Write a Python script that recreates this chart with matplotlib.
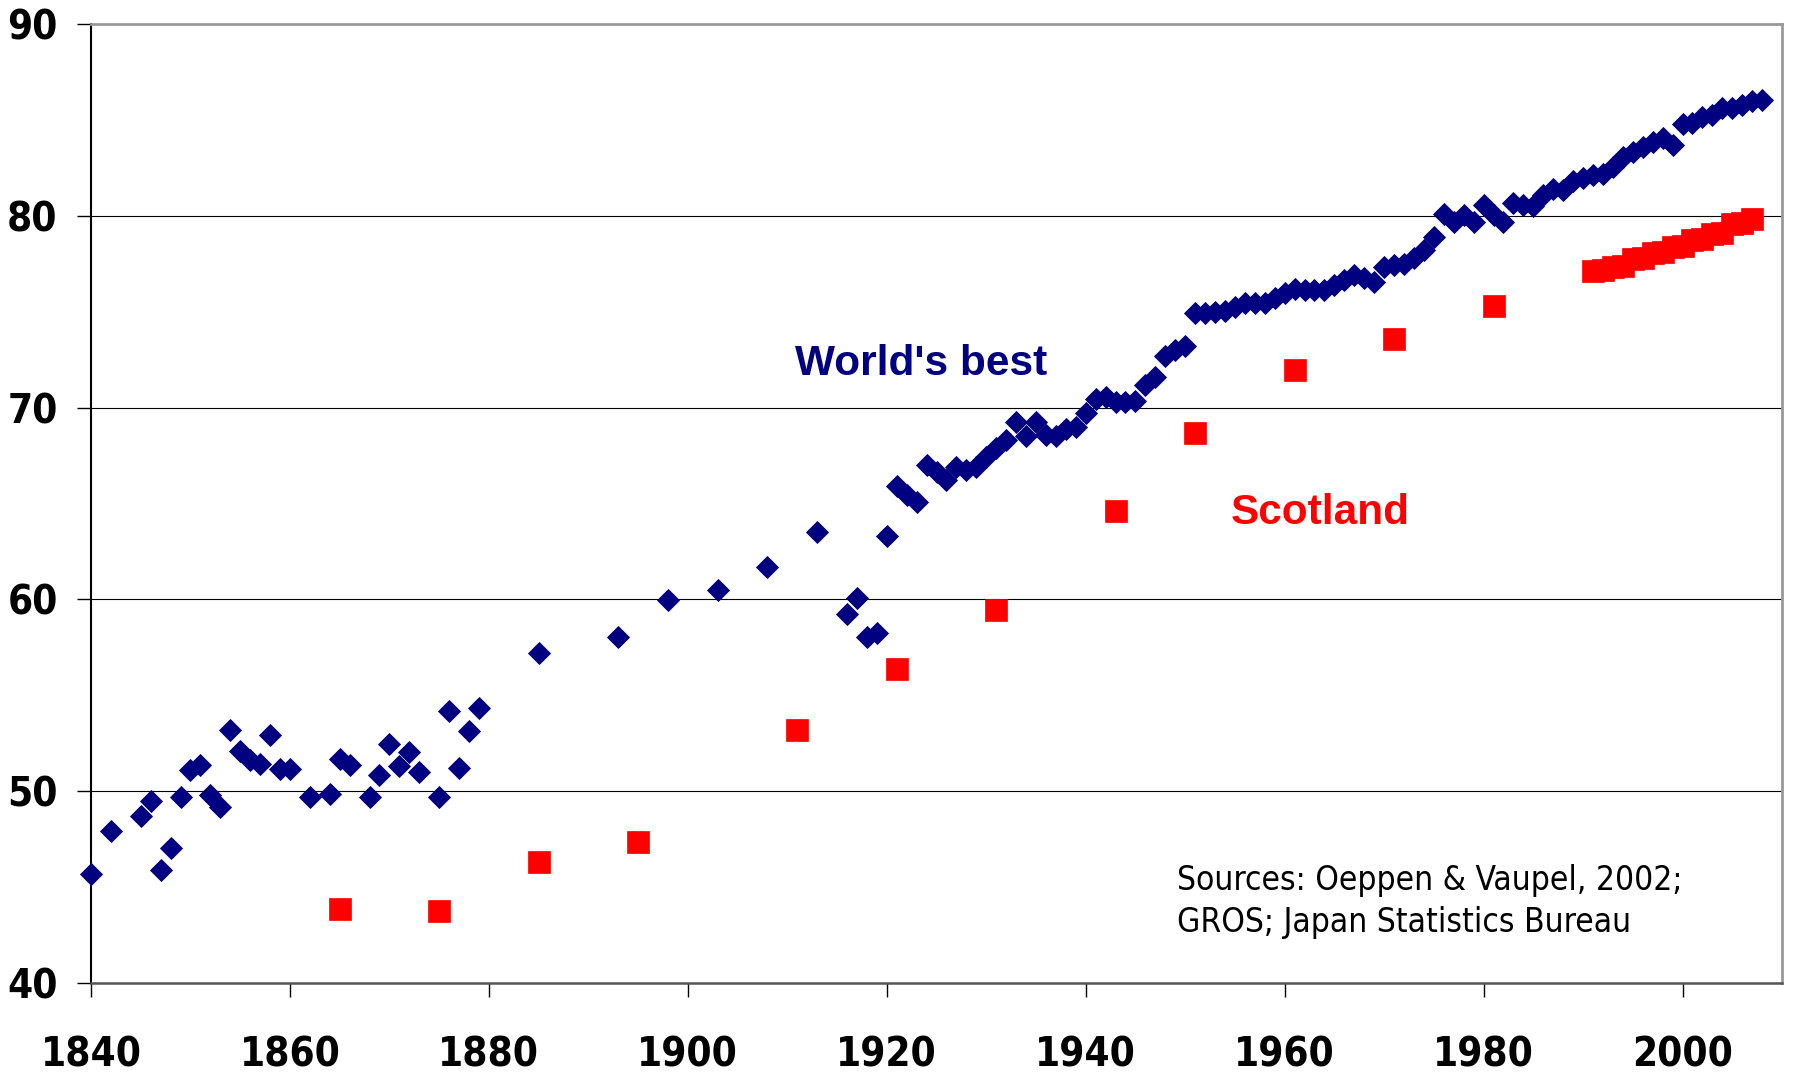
import matplotlib
matplotlib.use("Agg")
import matplotlib.pyplot as plt
from matplotlib import font_manager
from matplotlib.font_manager import FontProperties

# World's best-practice life expectancy (Oeppen & Vaupel) - female
world_years = [1840, 1842, 1845, 1846, 1847, 1848, 1849, 1850, 1851, 1852,
               1853, 1854, 1855, 1856, 1857, 1858, 1859, 1860, 1862, 1864,
               1865, 1866, 1868, 1869, 1870, 1871, 1872, 1873, 1875, 1876,
               1877, 1878, 1879, 1885, 1893, 1898, 1903, 1908, 1913, 1916,
               1917, 1918, 1919, 1920] + list(range(1921, 2009))
world_best = [45.7, 47.9, 48.7, 49.5, 45.9, 47.05, 49.7, 51.1, 51.35, 49.8,
              49.2, 53.2, 52.1, 51.65, 51.4, 52.95, 51.15, 51.15, 49.7, 49.85,
              51.7, 51.35, 49.7, 50.85, 52.45, 51.3, 52.05, 51.0, 49.7, 54.2,
              51.2, 53.15, 54.35, 57.2, 58.05, 59.95, 60.5, 61.7, 63.5, 59.25,
              60.05, 58.05, 58.25, 63.3,
              # 1921-1950
              65.9, 65.45, 65.1, 67.0, 66.65, 66.25, 66.9, 66.75, 66.9, 67.45,
              67.9, 68.3, 69.25, 68.5, 69.25, 68.55, 68.5, 68.9, 69.0, 69.7,
              70.45, 70.55, 70.3, 70.3, 70.35, 71.2, 71.6, 72.7, 73.0, 73.2,
              # 1951-1980
              74.95, 74.95, 75.0, 75.05, 75.25, 75.45, 75.45, 75.45, 75.7, 75.95,
              76.2, 76.15, 76.15, 76.15, 76.4, 76.65, 76.9, 76.75, 76.55, 77.35,
              77.45, 77.5, 77.8, 78.2, 78.9, 80.1, 79.7, 80.05, 79.7, 80.55,
              # 1981-2008
              80.05, 79.7, 80.65, 80.55, 80.5, 81.1, 81.4, 81.35, 81.8, 81.95,
              82.15, 82.2, 82.55, 83.05, 83.35, 83.6, 83.85, 84.05, 83.7, 84.8,
              84.85, 85.15, 85.25, 85.6, 85.6, 85.8, 86.0, 86.05]

# Scotland (GROS)
scot_years = [1865, 1875, 1885, 1895, 1911, 1921, 1931, 1943, 1951, 1961,
              1971, 1981] + list(range(1991, 2008))
scotland = [43.87, 43.77, 46.3, 47.37, 53.2, 56.37, 59.45, 64.6, 68.7, 71.96,
            73.6, 75.3,
            77.1, 77.15, 77.35, 77.4, 77.75, 77.8, 78.05, 78.1, 78.35, 78.4,
            78.75, 78.8, 79.05, 79.1, 79.55, 79.6, 79.85]

x_ticks = [1840, 1860, 1880, 1900, 1920, 1940, 1960, 1980, 2000]
y_ticks = [40, 50, 60, 70, 80, 90]


def is_bold(w):
    if isinstance(w, str):
        return w in ('bold', 'heavy', 'black', 'extra bold', 'semibold', 'demibold')
    return w >= 600


def narrow_font(bold):
    """Look for an installed condensed sans face; None if there is none."""
    best = None
    for f in font_manager.fontManager.ttflist:
        if f.style != 'normal' or is_bold(f.weight) != bold:
            continue
        name = f.name.lower()
        cond = 'narrow' in name or 'condensed' in name or \
            str(f.stretch) in ('condensed', 'semi-condensed', 'extra-condensed')
        if not cond:
            continue
        rank = 0 if 'liberation' in name else 1 if 'dejavu' in name else 2
        if best is None or rank < best[0]:
            best = (rank, f.fname)
    return best[1] if best else None


bold_path = narrow_font(True)
reg_path = narrow_font(False)
if bold_path:
    tick_font = FontProperties(fname=bold_path, size=29)
else:
    tick_font = FontProperties(family='Liberation Sans', weight='bold', size=29)
if reg_path:
    src_font = FontProperties(fname=reg_path, size=24)
else:
    src_font = FontProperties(family='Liberation Sans', size=23)

navy = '#000080'
red = '#ff0000'

fig = plt.figure(figsize=(17.93, 10.75), dpi=100)
ax = fig.add_axes([91 / 1793, 1 - 983 / 1075, (1782 - 91) / 1793, (983 - 24) / 1075])

ax.plot(world_years, world_best, linestyle='none', marker='D', ms=11.1,
        color=navy, mec=navy, mew=0.6, clip_on=False, zorder=3)
ax.plot(scot_years, scotland, linestyle='none', marker='s', ms=16,
        color=red, mec=red, mew=0.5, clip_on=False, zorder=3)

ax.set_xlim(1840, 2010)
ax.set_ylim(40, 90)
ax.set_xticks(x_ticks)
ax.set_yticks(y_ticks)
ax.yaxis.grid(True, color='black', lw=0.8)
ax.set_axisbelow(True)

ax.spines['left'].set_color('black')
ax.spines['left'].set_linewidth(1.5)
ax.spines['bottom'].set_color('#555555')
ax.spines['bottom'].set_linewidth(1.8)
for side in ('top', 'right'):
    ax.spines[side].set_color('#999999')
    ax.spines[side].set_linewidth(2)

ax.tick_params(axis='both', direction='out', length=10, width=1, color='black')
ax.tick_params(axis='y', pad=14)
ax.tick_params(axis='x', pad=28)
for lab in ax.get_xticklabels() + ax.get_yticklabels():
    lab.set_fontproperties(tick_font)

ax.text(1910.8, 71.7, "World's best", color=navy, fontsize=30.5,
        fontweight='bold', family='Liberation Sans', ha='left', va='baseline')
ax.text(1954.6, 63.95, "Scotland", color=red, fontsize=30.5,
        fontweight='bold', family='Liberation Sans', ha='left', va='baseline')
ax.text(1949.2, 44.87, "Sources: Oeppen & Vaupel, 2002;", color='black',
        fontproperties=src_font, ha='left', va='baseline')
ax.text(1949.2, 42.66, "GROS; Japan Statistics Bureau", color='black',
        fontproperties=src_font, ha='left', va='baseline')

fig.savefig('out.png', dpi=100, facecolor='white')
